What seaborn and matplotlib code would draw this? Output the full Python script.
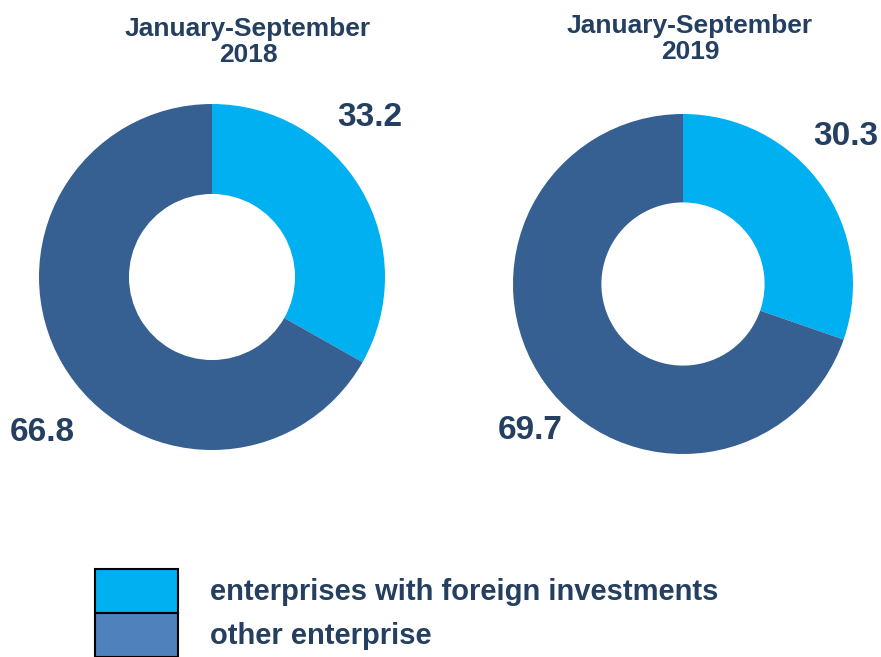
"""
Donut charts: enterprises with foreign investments vs other enterprises,
January-September 2018 and 2019.
"""

import matplotlib
matplotlib.use("Agg")
import matplotlib.pyplot as plt
from matplotlib.patches import Patch
import seaborn as sns

# data
PERIODS = ["January-September\n2018", "January-September\n2019"]
CATEGORIES = ["enterprises with foreign investments", "other enterprise"]
FOREIGN = [33.2, 30.3]
OTHER = [66.8, 69.7]

sns.set_theme(style="white")
plt.rcParams["font.family"] = ["Liberation Sans", "DejaVu Sans"]

TEXT = "#243F60"
DONUT_COLORS = ["#00B0F0", "#366092"]
LEGEND_COLORS = ["#00B0F0", "#4F81BD"]

W, H = 881, 657
fig = plt.figure(figsize=(W / 100, H / 100), dpi=100)


def px_axes(cx, cy, r):
    return fig.add_axes([(cx - r) / W, (H - cy - r) / H, 2 * r / W, 2 * r / H])


# centre x, centre y, radius (pixels), title centre, label positions (axes fraction)
layout = [
    dict(c=(212, 277, 173), title=(248, 42), lab_f=(0.957, 0.96), lab_o=(0.01, 0.05)),
    dict(c=(683, 284, 170), title=(690, 39), lab_f=(0.98, 0.935), lab_o=(0.05, 0.07)),
]

for i, period in enumerate(PERIODS):
    spec = layout[i]
    ax = px_axes(*spec["c"])
    ax.pie([FOREIGN[i], OTHER[i]], colors=DONUT_COLORS, startangle=90,
           counterclock=False, radius=1,
           wedgeprops=dict(width=0.52, edgecolor="none"))
    ax.set_xlim(-1, 1)
    ax.set_ylim(-1, 1)
    ax.axis("off")
    for pos, val in [(spec["lab_f"], FOREIGN[i]), (spec["lab_o"], OTHER[i])]:
        ax.text(*pos, f"{val:.1f}", transform=ax.transAxes, ha="center",
                va="center", fontsize=24, fontweight="bold", color=TEXT,
                clip_on=False)
    tx, ty = spec["title"]
    fig.text(tx / W, 1 - ty / H, period, ha="center", va="center",
             fontsize=19, fontweight="bold", color=TEXT, linespacing=1.1)

handles = [Patch(facecolor=c, edgecolor="black", linewidth=1.5) for c in LEGEND_COLORS]
leg = fig.legend(handles, CATEGORIES, loc="upper left",
                 bbox_to_anchor=(77 / W, 1 - 551 / H), frameon=False,
                 handlelength=2.85, handleheight=1.95,
                 labelspacing=0.0, handletextpad=1.1, borderpad=0.1,
                 prop=dict(weight="bold", size=21))
for t in leg.get_texts():
    t.set_color(TEXT)

fig.savefig("out.png", dpi=100)
